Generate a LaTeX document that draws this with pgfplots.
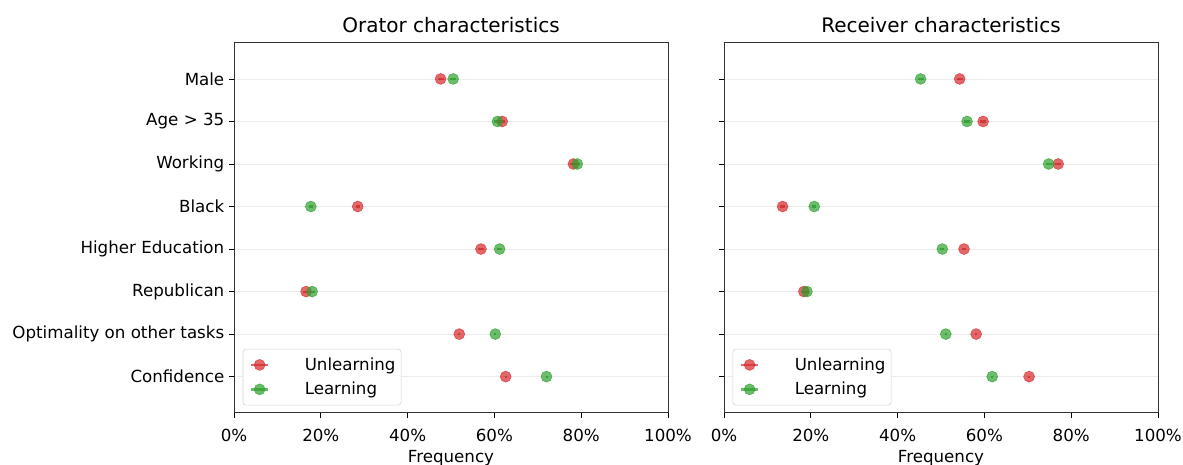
\documentclass[border=0pt]{standalone}
\usepackage{pgfplots}
\pgfplotsset{compat=1.18}
\usepackage{pgfplotstable}
\usepackage{fontspec}
\setmainfont{DejaVu Sans}
\definecolor{tred}{RGB}{214,39,40}
\definecolor{tgreen}{RGB}{44,160,44}

% Orator, Unlearning
\pgfplotstableread{
y x e
7 47.6 0.7
6 61.8 0.7
5 78.2 0.7
4 28.5 0.5
3 56.9 0.6
2 16.6 0.6
1 51.9 0.2
0 62.6 0.2
}\oraU
% Orator, Learning
\pgfplotstableread{
y x e
7 50.5 0.7
6 60.7 0.7
5 79.1 0.7
4 17.7 0.5
3 61.2 0.5
2 18.0 0.6
1 60.2 0.2
0 72.0 0.2
}\oraL
% Receiver, Unlearning
\pgfplotstableread{
y x e
7 54.3 0.7
6 59.7 0.7
5 77.0 0.7
4 13.5 0.5
3 55.3 0.5
2 18.4 0.5
1 58.1 0.2
0 70.3 0.2
}\recU
% Receiver, Learning
\pgfplotstableread{
y x e
7 45.3 0.7
6 56.0 0.7
5 74.8 0.7
4 20.8 0.5
3 50.3 0.5
2 19.1 0.5
1 51.1 0.2
0 61.8 0.2
}\recL

\pgfplotsset{
  myax/.style={
    scale only axis,
    width=312.5pt, height=267pt,
    xmin=0, xmax=100, ymin=-0.85, ymax=7.87,
    xtick={0,20,40,60,80,100},
    xticklabels={0\%,20\%,40\%,60\%,80\%,100\%},
    ytick={0,...,7},
    xtick pos=bottom, ytick pos=left,
    tick align=outside,
    major tick length=3.5pt,
    tick style={black, line width=0.6pt},
    axis line style={line width=0.6pt, black!80},
    ymajorgrids, grid style={gray!15, line width=0.6pt},
    xlabel={\raisebox{0pt}[\height][0pt]{Frequency}},
    xlabel style={at={(axis description cs:0.5,0)}, anchor=north, inner ysep=1pt, yshift=-25.5pt},
    tick label style={font=\fontsize{12}{14}\selectfont},
    xticklabel style={yshift=-5pt},
    label style={font=\fontsize{12}{14}\selectfont},
    title style={font=\fontsize{14.4}{17}\selectfont, at={(axis description cs:0.5,1)}, anchor=base, inner sep=0pt, yshift=0.5pt},
    legend style={at={(0.02,0.02)}, anchor=south west, draw=gray!35, rounded corners=2pt,
      font=\fontsize{12}{14}\selectfont, row sep=2pt, inner xsep=2pt, inner ysep=3.5pt,
      nodes={inner xsep=2pt, inner ysep=2.5pt}},
    legend cell align=left,
    legend image code/.code={
      \path[draw=none] (-4.5pt,0pt) -- (36pt,0pt);
      \draw[#1, line width=2pt, mark=none] (-0.5pt,0pt) -- (11.5pt,0pt);
      \draw[#1] plot[only marks] coordinates {(5.5pt,0pt)};
    },
  },
  redpl/.style={only marks, mark=*, color=tred, mark size=3.95pt, mark options={draw=none, fill=tred}, opacity=0.7,
    error bars/.cd, x dir=both, x explicit, error mark=none, error bar style={line width=1.5pt, color=tred!80!black}},
  greenpl/.style={only marks, mark=*, color=tgreen, mark size=3.95pt, mark options={draw=none, fill=tgreen}, opacity=0.7,
    error bars/.cd, x dir=both, x explicit, error mark=none, error bar style={line width=1.5pt, color=tgreen!80!black}},
}

\begin{document}
\begin{tikzpicture}
\begin{axis}[myax, name=left, title={Orator characteristics},
  yticklabels={Confidence, Optimality on other tasks, Republican, Higher Education, Black, Working, Age > 35, Male}]
\addplot[redpl] table[x=x, y=y, x error=e] {\oraU};
\addlegendentry{Unlearning}
\addplot[greenpl] table[x=x, y=y, x error=e] {\oraL};
\addlegendentry{Learning}
\end{axis}
\begin{axis}[myax, name=right, at={(352.8pt,0)}, title={Receiver characteristics}, yticklabels={}]
\addplot[redpl] table[x=x, y=y, x error=e] {\recU};
\addlegendentry{Unlearning}
\addplot[greenpl] table[x=x, y=y, x error=e] {\recL};
\addlegendentry{Learning}
\end{axis}
\pgfresetboundingbox
\path ([xshift=-168.5pt,yshift=30.2pt]left.north west) rectangle ([xshift=18pt,yshift=-36.9pt]right.south east);
\end{tikzpicture}
\end{document}
